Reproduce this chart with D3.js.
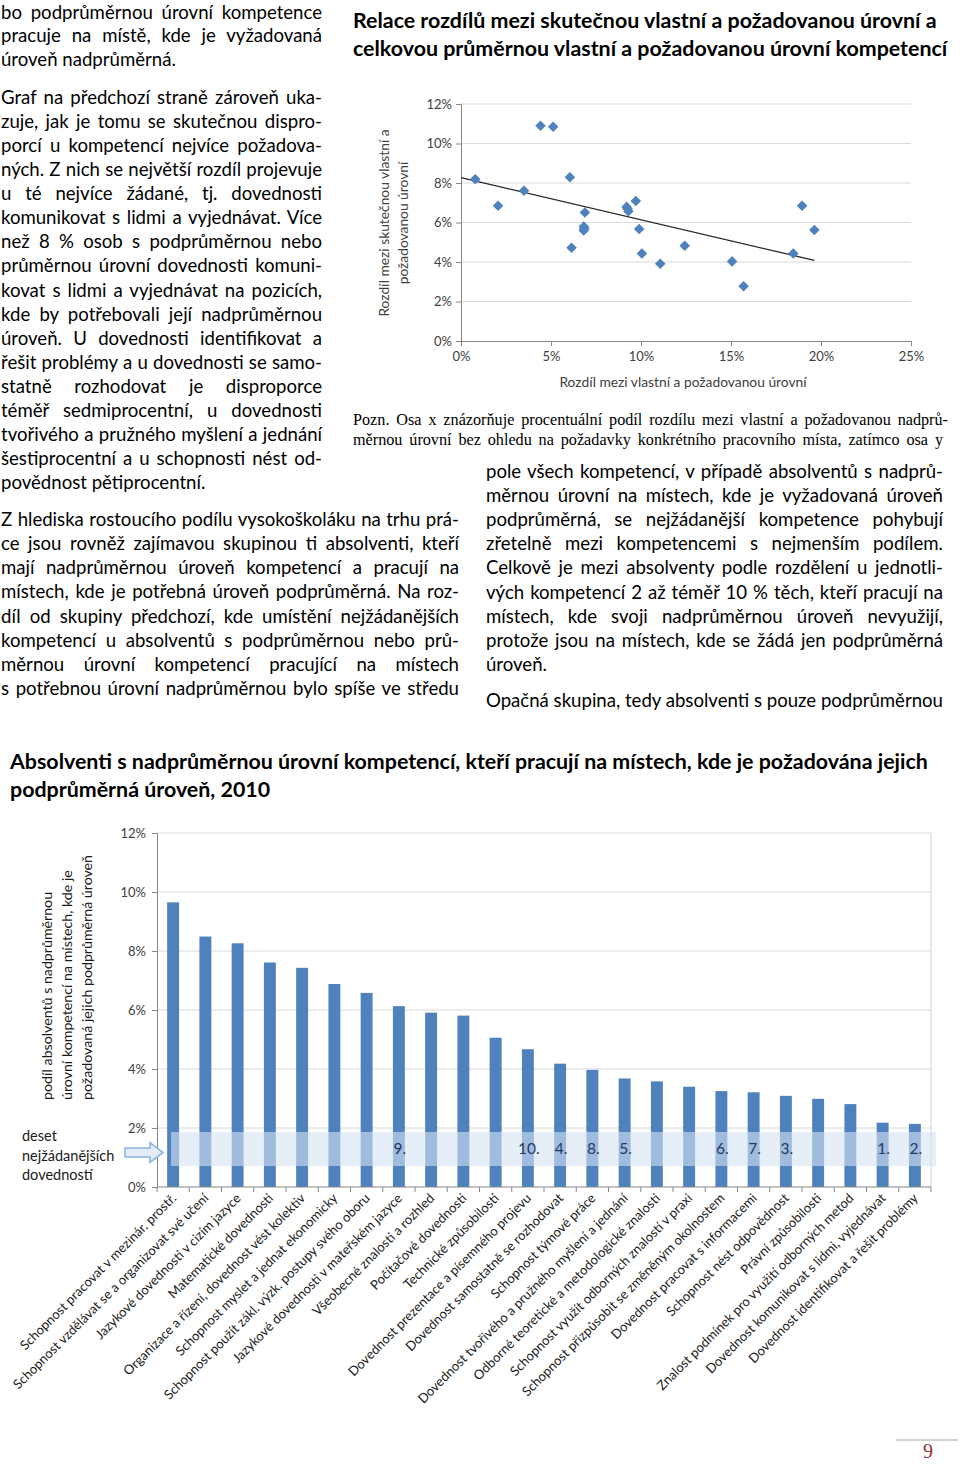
<!DOCTYPE html>
<html><head><meta charset="utf-8">
<script src="https://cdn.jsdelivr.net/npm/d3@7"></script>
<style>
body{margin:0;background:#fff;}
#page{position:relative;width:960px;height:1464px;overflow:hidden;font-family:Lato,'Open Sans',sans-serif;background:#fff;}
.ln{position:absolute;white-space:nowrap;font-size:18.6px;line-height:24px;height:24px;color:#000;text-align:justify;text-align-last:justify;}
.ln.last{text-align:left;text-align-last:left;}
.pozn{position:absolute;white-space:nowrap;font-family:'Liberation Serif','Times New Roman',serif;font-size:16.2px;line-height:20px;height:20px;text-align:justify;text-align-last:justify;}
.ttl{position:absolute;white-space:nowrap;font-weight:bold;color:#000;}
svg{position:absolute;left:0;top:0;}
</style></head><body><div id="page"></div>
<script>
// ---------- TEXT ----------
const paraA = ["bo podprůměrnou úrovní kompetence","pracuje na místě, kde je vyžadovaná","úroveň nadprůměrná."];
const paraB = ["Graf na předchozí straně zároveň uka-","zuje, jak je tomu se skutečnou dispro-","porcí u kompetencí nejvíce požadova-","ných. Z nich se největší rozdíl projevuje","u té nejvíce žádané, tj. dovednosti","komunikovat s lidmi a vyjednávat. Více","než 8 % osob s podprůměrnou nebo","průměrnou úrovní dovednosti komuni-","kovat s lidmi a vyjednávat na pozicích,","kde by potřebovali její nadprůměrnou","úroveň. U dovednosti identifikovat a","řešit problémy a u dovednosti se samo-","statně rozhodovat je disproporce","téměř sedmiprocentní, u dovednosti","tvořivého a pružného myšlení a jednání","šestiprocentní a u schopnosti nést od-","povědnost pětiprocentní."];
const paraC = ["Z hlediska rostoucího podílu vysokoškoláku na trhu prá-","ce jsou rovněž zajímavou skupinou ti absolventi, kteří","mají nadprůměrnou úroveň kompetencí a pracují na","místech, kde je potřebná úroveň podprůměrná. Na roz-","díl od skupiny předchozí, kde umístění nejžádanějších","kompetencí u absolventů s podprůměrnou nebo prů-","měrnou úrovní kompetencí pracující na místech","s potřebnou úrovní nadprůměrnou bylo spíše ve středu"];
const paraD = ["pole všech kompetencí, v případě absolventů s nadprů-","měrnou úrovní na místech, kde je vyžadovaná úroveň","podprůměrná, se nejžádanější kompetence pohybují","zřetelně mezi kompetencemi s nejmenším podílem.","Celkově je mezi absolventy podle rozdělení u jednotli-","vých kompetencí 2 až téměř 10 % těch, kteří pracují na","místech, kde svoji nadprůměrnou úroveň nevyužijí,","protože jsou na místech, kde se žádá jen podprůměrná","úroveň."];
const paraE = ["Opačná skupina, tedy absolventi s pouze podprůměrnou"];
const noteLines = ["Pozn. Osa x znázorňuje procentuální podíl rozdílu mezi vlastní a požadovanou nadprů-","měrnou úrovní bez ohledu na požadavky konkrétního pracovního místa, zatímco osa y"];
const scatterTitle = ["Relace rozdílů mezi skutečnou vlastní a požadovanou úrovní a","celkovou průměrnou vlastní a požadovanou úrovní kompetencí"];
const barTitle = ["Absolventi s nadprůměrnou úrovní kompetencí, kteří pracují na místech, kde je požadována jejich","podprůměrná úroveň, 2010"];
const pageNumber = "9";

// ---------- SCATTER DATA ----------
const scatterX = [0.79,2.06,3.50,4.42,5.12,6.05,6.14,6.88,6.82,6.82,6.85,9.20,9.30,9.25,9.71,9.90,10.05,11.07,12.43,15.06,15.70,18.46,18.95,19.63];
const scatterY = [8.19,6.85,7.61,10.90,10.85,8.29,4.72,6.51,5.80,5.60,5.70,6.79,6.57,6.70,7.09,5.67,4.43,3.91,4.82,4.03,2.77,4.43,6.85,5.62];
const scatterXTicks = [0,5,10,15,20,25];
const scatterYTicks = [0,2,4,6,8,10,12];
const scatterXLabel = "Rozdíl mezi vlastní a požadovanou úrovní";
const scatterYLabel = ["Rozdíl mezi skutečnou vlastní a","požadovanou úrovní"];

// ---------- BAR DATA ----------
const categories = ["Schopnost pracovat v mezinár. prostř.","Schopnost vzdělávat se a organizovat své učení","Jazykové dovednosti v cizím jazyce","Matematické dovednosti","Organizace a řízení, dovednost vést kolektiv","Schopnost myslet a jednat ekonomicky","Schopnost použít zákl. výzk. postupy svého oboru","Jazykové dovednosti v mateřském jazyce","Všeobecné znalosti a rozhled","Počítačové dovednosti","Technické způsobilosti","Dovednost prezentace a písemného projevu","Dovednost samostatně se rozhodovat","Schopnost týmové práce","Dovednost tvořivého a pružného myšlení a jednání","Odborné teoretické a metodologické znalosti","Schopnost využít odborných znalostí v praxi","Schopnost přizpůsobit se změněným okolnostem","Dovednost pracovat s informacemi","Schopnost nést odpovědnost","Právní způsobilosti","Znalost podmínek pro využití odborných metod","Dovednost komunikovat s lidmi, vyjednávat","Dovednost identifikovat a řešit problémy"];
const barValues = [9.65,8.49,8.26,7.61,7.43,6.88,6.58,6.13,5.91,5.81,5.06,4.67,4.18,3.97,3.68,3.58,3.40,3.25,3.21,3.09,2.99,2.81,2.18,2.14];
const rankLabels = ["","","","","","","","9.","","","","10.","4.","8.","5.","","","6.","7.","3.","","","1.","2."];
const barYTicks = [0,2,4,6,8,10,12];
const barYLabel = ["podíl absolventů s nadprůměrnou","úrovní kompetencí  na místech, kde je","požadovaná jejich podprůměrná  úroveň"];
const bandNote = ["deset","nejžádanějších","dovedností"];

// ---------- HTML TEXT ----------
const page = d3.select("#page");
function block(lines, x, w, y0, step, lastLeft){
  lines.forEach((t,i)=>{
    page.append("div").attr("class","ln"+(lastLeft && i===lines.length-1?" last":""))
      .style("left",x+"px").style("width",w+"px").style("top",(y0+i*step-12)+"px").text(t);
  });
}
block(paraA,1,321,11.7,23.7,true);
block(paraB,1,321,96.7,24.1,true);
block(paraC,1,458,519,24.15,false);
block(paraD,486,457,471,24.1,true);
block(paraE,486,457,700,24,false);
noteLines.forEach((t,i)=>{
  page.append("div").attr("class","pozn").style("left","353px").style("width",(i===0?595:590)+"px")
    .style("top",(420+i*20-10)+"px").text(t);
});
scatterTitle.forEach((t,i)=>{
  page.append("div").attr("class","ttl").style("left","353px").style("top",(20+i*28-14)+"px")
    .style("font-size","21.4px").style("line-height","28px").text(t);
});
barTitle.forEach((t,i)=>{
  page.append("div").attr("class","ttl").style("left","10px").style("top",(761+i*28-14)+"px")
    .style("font-size","21.4px").style("line-height","28px").text(t);
});

// ---------- SVG ----------
const svg = page.append("svg").attr("width",960).attr("height",1464);
const axisColor = "#868686", gridColor = "#d9d9d9", tickText = "#404040";
const barColor = "#4f81bd";

// Scatter
const sx = d3.scaleLinear().domain([0,25]).range([461,911]);
const sy = d3.scaleLinear().domain([0,12]).range([341,104]);
const sc = svg.append("g");
sc.selectAll("line.g").data(scatterYTicks.filter(d=>d>0)).join("line")
  .attr("x1",sx(0)).attr("x2",sx(25)).attr("y1",d=>sy(d)).attr("y2",d=>sy(d))
  .attr("stroke",gridColor).attr("stroke-width",1.2);
const syAxis = sc.append("g").attr("transform",`translate(${sx(0)},0)`)
  .call(d3.axisLeft(sy).tickValues(scatterYTicks).tickFormat(d=>d+"%").tickSize(5).tickPadding(4));
const sxAxis = sc.append("g").attr("transform",`translate(0,${sy(0)})`)
  .call(d3.axisBottom(sx).tickValues(scatterXTicks).tickFormat(d=>d+"%").tickSize(5).tickPadding(6));
[syAxis,sxAxis].forEach(a=>{
  a.select(".domain").attr("stroke",axisColor);
  a.selectAll(".tick line").attr("stroke",axisColor);
  a.selectAll("text").attr("fill",tickText).style("font-family","Lato, sans-serif").style("font-size","13px");
});
// trend line (least squares from data)
const n = scatterX.length;
const mx = d3.mean(scatterX), my = d3.mean(scatterY);
let sxy=0, sxx=0;
for(let i=0;i<n;i++){ sxy+=(scatterX[i]-mx)*(scatterY[i]-my); sxx+=(scatterX[i]-mx)**2; }
const slope = sxy/sxx, icpt = my - slope*mx;
const xMax = d3.max(scatterX);
sc.append("line").attr("x1",sx(0)).attr("y1",sy(icpt)).attr("x2",sx(xMax)).attr("y2",sy(icpt+slope*xMax))
  .attr("stroke","#262626").attr("stroke-width",1.3);
sc.selectAll("path.pt").data(scatterX.map((x,i)=>[x,scatterY[i]])).join("path")
  .attr("d",d3.symbol(d3.symbolSquare,56))
  .attr("transform",d=>`translate(${sx(d[0])},${sy(d[1])}) rotate(45)`)
  .attr("fill",barColor);
sc.append("text").attr("x",(sx(0)+sx(25))/2 - 3).attr("y",387).attr("text-anchor","middle")
  .attr("fill",tickText).style("font-family","Lato, sans-serif").style("font-size","13.8px").text(scatterXLabel);
scatterYLabel.forEach((t,i)=>{
  sc.append("text").attr("transform",`translate(${389+i*19},${223}) rotate(-90)`).attr("text-anchor","middle")
    .attr("fill",tickText).style("font-family","Lato, sans-serif").style("font-size","13.8px").text(t);
});

// Bar chart
const bx = d3.scaleBand().domain(categories).range([157,931]).paddingInner(0.63).paddingOuter(0.315);
const by = d3.scaleLinear().domain([0,12]).range([1187,833]);
const bc = svg.append("g");
bc.selectAll("line.g").data(barYTicks.filter(d=>d>0)).join("line")
  .attr("x1",157).attr("x2",931).attr("y1",d=>by(d)).attr("y2",d=>by(d))
  .attr("stroke",gridColor).attr("stroke-width",1.2);
bc.append("line").attr("x1",931).attr("x2",931).attr("y1",by(12)).attr("y2",by(0)).attr("stroke",gridColor).attr("stroke-width",1.2);
bc.selectAll("rect.bar").data(categories).join("rect")
  .attr("x",d=>bx(d)).attr("width",bx.bandwidth())
  .attr("y",(d,i)=>by(barValues[i])).attr("height",(d,i)=>by(0)-by(barValues[i]))
  .attr("fill",barColor);
const byAxis = bc.append("g").attr("transform","translate(157,0)")
  .call(d3.axisLeft(by).tickValues(barYTicks).tickFormat(d=>d+"%").tickSize(5).tickPadding(6));
byAxis.select(".domain").attr("stroke",axisColor);
byAxis.selectAll(".tick line").attr("stroke",axisColor);
byAxis.selectAll("text").attr("fill",tickText).style("font-family","Lato, sans-serif").style("font-size","13px");
// x axis line + boundary ticks
bc.append("line").attr("x1",157).attr("x2",931).attr("y1",by(0)).attr("y2",by(0)).attr("stroke",axisColor);
const bounds = categories.map(c=>bx(c)-bx.step()*bx.paddingInner()/2).concat([931]);
bc.selectAll("line.xt").data(bounds).join("line")
  .attr("x1",d=>d).attr("x2",d=>d).attr("y1",by(0)).attr("y2",by(0)+5).attr("stroke",axisColor);
bc.selectAll("text.cat").data(categories).join("text")
  .attr("transform",d=>`translate(${bx(d)+bx.bandwidth()/2+4},${by(0)+12}) rotate(-45)`)
  .attr("text-anchor","end").attr("fill","#1a1a1a")
  .style("font-family","Lato, sans-serif").style("font-size","13.1px").text(d=>d);
// highlight band
bc.append("rect").attr("x",171).attr("y",1132).attr("width",765).attr("height",34)
  .attr("fill","#d5e2f1").attr("opacity",0.6);
bc.selectAll("text.rank").data(categories).join("text")
  .attr("x",d=>bx(d)+bx.bandwidth()/2+1).attr("y",1154).attr("text-anchor","middle")
  .attr("fill","#1f3864").style("font-family","Lato, sans-serif").style("font-size","15.5px")
  .text((d,i)=>rankLabels[i]);
// arrow
bc.append("path").attr("d","M125,1148 L150,1148 L150,1142.5 L163,1152.5 L150,1162.5 L150,1157 L125,1157 Z")
  .attr("fill","#e4ecf6").attr("stroke","#8db3e2").attr("stroke-width",1.6);
bandNote.forEach((t,i)=>{
  bc.append("text").attr("x",22).attr("y",1141+i*19.5).attr("fill","#1a1a1a")
    .style("font-family","Lato, sans-serif").style("font-size","14.5px").text(t);
});
barYLabel.forEach((t,i)=>{
  bc.append("text").attr("transform",`translate(${52+i*20},1100) rotate(-90)`).attr("text-anchor","start")
    .attr("fill","#1a1a1a").style("font-family","Lato, sans-serif").style("font-size","14.2px").text(t);
});

// page number
svg.append("line").attr("x1",896).attr("x2",958).attr("y1",1440).attr("y2",1440).attr("stroke","#a6a6a6");
svg.append("text").attr("x",928).attr("y",1458).attr("text-anchor","middle").attr("fill","#943634")
  .style("font-family","'Liberation Serif', serif").style("font-size","20px").text(pageNumber);
</script></body></html>
